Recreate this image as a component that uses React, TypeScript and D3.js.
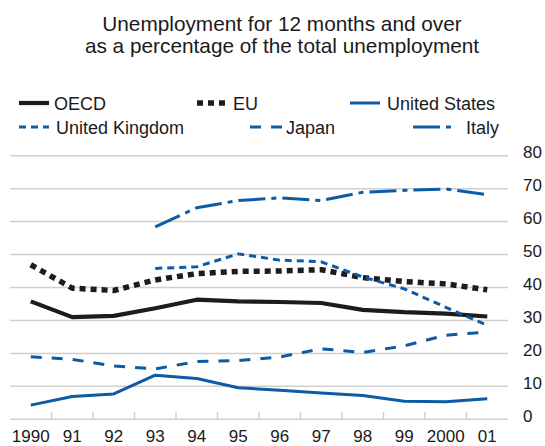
import { useEffect, useRef } from 'react'
import * as d3 from 'd3'

// Long-term unemployment shares
const years = ['1990', '91', '92', '93', '94', '95', '96', '97', '98', '99', '2000', '01']
const oecd = [35.8, 31.0, 31.4, 33.7, 36.3, 35.8, 35.6, 35.3, 33.2, 32.5, 32.1, 31.2]
const eu = [46.9, 39.8, 39.1, 42.3, 44.2, 44.9, 45.0, 45.4, 43.0, 41.8, 41.1, 39.3]
const unitedStates = [4.3, 6.9, 7.7, 13.4, 12.4, 9.6, 8.8, 8.0, 7.2, 5.5, 5.3, 6.2]
const unitedKingdom = [null, null, null, 45.8, 46.3, 50.2, 48.3, 47.8, 43.2, 39.6, 34.0, 28.5]
const japan = [19.0, 18.2, 16.2, 15.3, 17.5, 17.8, 18.9, 21.4, 20.3, 22.3, 25.5, 26.5]
const italy = [null, null, null, 58.4, 64.2, 66.4, 67.2, 66.4, 68.9, 69.5, 69.9, 68.2]
const yTicks = [0, 10, 20, 30, 40, 50, 60, 70, 80]

const BLACK = '#1c1c1c'
const BLUE = '#0d5aa7'
const FONT = '"Liberation Sans", Arial, sans-serif'

interface Series {
  name: string
  values: (number | null)[]
  color: string
  width: number
  dash: string | null
}

const series: Series[] = [
  { name: 'Japan', values: japan, color: BLUE, width: 3, dash: '11,10' },
  { name: 'United States', values: unitedStates, color: BLUE, width: 3, dash: null },
  { name: 'Italy', values: italy, color: BLUE, width: 3, dash: '27,6,5,6' },
  { name: 'EU', values: eu, color: BLACK, width: 5.5, dash: '6,5' },
  { name: 'OECD', values: oecd, color: BLACK, width: 4.2, dash: null },
  { name: 'United Kingdom', values: unitedKingdom, color: BLUE, width: 3, dash: '7,5' },
]

// legend placement: [series name, swatch x, swatch length, text x, row y]
const legendItems: [string, number, number, number, number][] = [
  ['OECD', 19, 30, 54, 103],
  ['EU', 197, 30, 233, 103],
  ['United States', 350, 30, 387, 103],
  ['United Kingdom', 19, 30, 56, 127],
  ['Japan', 250, 32, 286, 127],
  ['Italy', 413, 40, 466, 127],
]

export default function App() {
  const svgRef = useRef<SVGSVGElement>(null)

  useEffect(() => {
    if (!svgRef.current) return
    const svg = d3.select(svgRef.current)
    svg.selectAll('*').remove()

    const width = 545
    const height = 446
    const left = 10
    const right = 508
    const bottom = 419.3
    const top = 155.7

    svg.attr('width', width).attr('height', height)

    svg.append('rect').attr('width', width).attr('height', height).attr('fill', '#ffffff')

    // Title
    const title = svg.append('g')
      .attr('font-family', FONT)
      .attr('font-size', 20.8)
      .attr('fill', '#1a1a1a')
      .attr('text-anchor', 'middle')
    title.append('text').attr('x', 282).attr('y', 31).text('Unemployment for 12 months and over')
    title.append('text').attr('x', 282).attr('y', 53).text('as a percentage of the total unemployment')

    const x = d3.scaleBand<string>().domain(years).range([left, right])
    const y = d3.scaleLinear().domain([0, 80]).range([bottom, top])
    const cx = (i: number) => (x(years[i]) as number) + x.bandwidth() / 2

    // Gridlines
    svg.append('g')
      .selectAll('line')
      .data(yTicks)
      .enter().append('line')
      .attr('x1', left)
      .attr('x2', right)
      .attr('y1', d => y(d))
      .attr('y2', d => y(d))
      .attr('stroke', '#cfcfcf')
      .attr('stroke-width', 1.5)

    // tick marks between categories, pointing up from the baseline
    svg.append('g')
      .selectAll('line')
      .data(years.slice(1))
      .enter().append('line')
      .attr('x1', d => x(d) as number)
      .attr('x2', d => x(d) as number)
      .attr('y1', bottom)
      .attr('y2', bottom - 7.5)
      .attr('stroke', '#cfcfcf')
      .attr('stroke-width', 1.5)

    // Right-hand value labels
    svg.append('g')
      .selectAll('text')
      .data(yTicks)
      .enter().append('text')
      .attr('x', 523)
      .attr('y', d => y(d) + 2.5)
      .attr('font-family', FONT)
      .attr('font-size', 17)
      .attr('fill', '#1a1a1a')
      .text(d => String(d))

    // Year labels
    svg.append('g')
      .selectAll('text')
      .data(years)
      .enter().append('text')
      .attr('x', (_, i) => cx(i))
      .attr('y', 442)
      .attr('text-anchor', 'middle')
      .attr('font-family', FONT)
      .attr('font-size', 17)
      .attr('fill', '#1a1a1a')
      .text(d => d)

    const line = d3.line<number | null>()
      .defined(d => d != null)
      .x((_, i) => cx(i))
      .y(d => y(d as number))

    series.forEach(s => {
      svg.append('path')
        .datum(s.values)
        .attr('fill', 'none')
        .attr('stroke', s.color)
        .attr('stroke-width', s.width)
        .attr('stroke-dasharray', s.dash)
        .attr('stroke-linejoin', 'round')
        .attr('d', line)
    })

    // Legend
    const legend = svg.append('g')
    legendItems.forEach(([name, sx, len, tx, ry]) => {
      const s = series.find(d => d.name === name) as Series
      legend.append('line')
        .attr('x1', sx)
        .attr('x2', sx + len)
        .attr('y1', ry)
        .attr('y2', ry)
        .attr('stroke', s.color)
        .attr('stroke-width', s.width)
        .attr('stroke-dasharray', s.dash)
      legend.append('text')
        .attr('x', tx)
        .attr('y', ry + 6.5)
        .attr('font-family', FONT)
        .attr('font-size', 18)
        .attr('fill', '#1a1a1a')
        .text(name)
    })
  }, [])

  return (
    <div style={{ position: 'absolute', left: 0, top: 0 }}>
      <svg ref={svgRef} style={{ display: 'block' }}></svg>
    </div>
  )
}
